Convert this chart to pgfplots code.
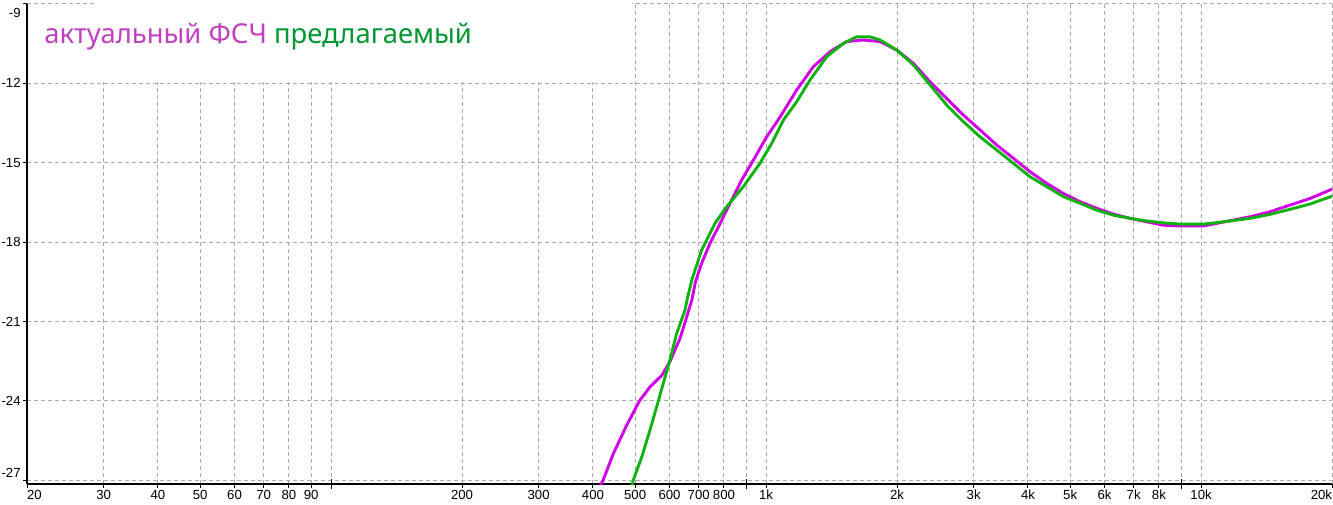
\documentclass[border=0pt]{standalone}
\usepackage{fontspec}
\setmainfont{Liberation Sans}
\newfontfamily\legfont{Noto Sans}
\usepackage{pgfplots}
\pgfplotsset{compat=1.18}
\definecolor{cmag}{RGB}{210,0,232}
\definecolor{cgrn}{RGB}{16,178,16}
\definecolor{tmag}{RGB}{192,64,192}
\definecolor{tgrn}{RGB}{0,150,50}
\definecolor{gridgray}{RGB}{170,170,170}
\begin{document}
\begin{tikzpicture}[x=1pt,y=1pt]
\useasboundingbox (0,0) rectangle (666.5,252);
\begin{axis}[
  at={(13.5pt,10pt)}, anchor=south west, scale only axis,
  width=652.5pt, height=240pt,
  xmode=log, xmin=20, xmax=20000, ymin=-27.14, ymax=-9,
  axis x line=bottom, axis y line=left,
  axis line style={-, line width=0.8pt},
  xtick={20,30,40,50,60,70,80,90,200,300,400,500,600,700,800,1000,2000,3000,4000,5000,6000,7000,8000,10000,20000},
  xticklabels={\makebox[0pt][l]{20},30,40,50,60,70,80,90,200,300,400,500,600,700,800,1k,2k,3k,4k,5k,6k,7k,8k,10k,\makebox[0pt][r]{20k}},
  extra x ticks={100,900,9000}, extra x tick labels={},
  extra x tick style={tick align=center, major tick length=5pt, grid=major},
  ytick={-27,-24,-21,-18,-15,-12,-9},
  yticklabels={\smash{\raisebox{1.6pt}{-27}},-24,-21,-18,-15,-12,\smash{\raisebox{-6.8pt}{-9}}},
  tick align=outside, major tick length=2pt,
  tick style={black, line width=0.5pt},
  grid=major,
  major grid style={gridgray, line width=0.5pt, dash pattern=on 2pt off 1.5pt},
  tick label style={font=\fontsize{6.6}{7}\selectfont},
  xticklabel style={inner sep=1pt},
  yticklabel style={inner sep=1pt},
]
\addplot[cmag, line width=1.45pt] coordinates {
(410,-27.4) (422,-27.0) (445.6,-25.99) (478,-24.92) (513,-23.97) (541,-23.47) (576,-23.03)
(601,-22.52) (634,-21.64) (657,-20.82) (675,-20.19) (688,-19.5) (711,-18.8)
(743,-18.05) (777,-17.42) (826,-16.54) (879,-15.65) (935,-14.9) (1003,-14.02)
(1077,-13.27) (1176,-12.25) (1284,-11.37) (1403,-10.8) (1532,-10.42) (1674,-10.36)
(1828,-10.42) (1997,-10.74) (2180,-11.24) (2382,-11.94) (2602,-12.57) (2842,-13.2)
(3104,-13.76) (3390,-14.33) (3702,-14.83) (4044,-15.34) (4417,-15.78) (4824,-16.16)
(5268,-16.47) (5754,-16.72) (6284,-16.94) (6864,-17.1) (7497,-17.23) (8188,-17.36)
(8946,-17.39) (10120,-17.39) (11660,-17.19) (12960,-17.04) (14400,-16.85)
(16010,-16.6) (17800,-16.35) (19790,-16.03) (20000,-16.0)
};
\addplot[cgrn, line width=1.45pt] coordinates {
(488,-27.4) (495,-27.0) (518,-26.11) (541,-25.1) (566,-23.97) (586,-23.09) (601,-22.46)
(623,-21.45) (651,-20.57) (660,-20.1) (675,-19.43) (711,-18.3) (763,-17.29)
(812,-16.66) (887,-15.9) (968,-15.02) (1030,-14.27) (1096,-13.39) (1176,-12.69)
(1262,-11.87) (1379,-10.99) (1505,-10.49) (1615,-10.24) (1734,-10.24) (1828,-10.36)
(1997,-10.74) (2180,-11.3) (2382,-12.06) (2602,-12.82) (2842,-13.45) (3104,-14.02)
(3390,-14.52) (3702,-15.02) (4044,-15.53) (4417,-15.9) (4824,-16.28) (5268,-16.53)
(5754,-16.79) (6284,-16.98) (6864,-17.1) (7497,-17.2) (8188,-17.27) (8946,-17.32)
(10120,-17.32) (11660,-17.2) (12960,-17.1) (14400,-16.95) (16010,-16.76)
(17800,-16.56) (19790,-16.29) (20000,-16.26)
};
\end{axis}
\fill[white] (47.5,211) rectangle (316,252);
\node[anchor=base west, inner sep=0pt] at (22,230) {\legfont\fontsize{13.7}{16}\selectfont\textcolor{tmag}{актуальный ФСЧ} \textcolor{tgrn}{предлагаемый}};
\end{tikzpicture}
\end{document}
